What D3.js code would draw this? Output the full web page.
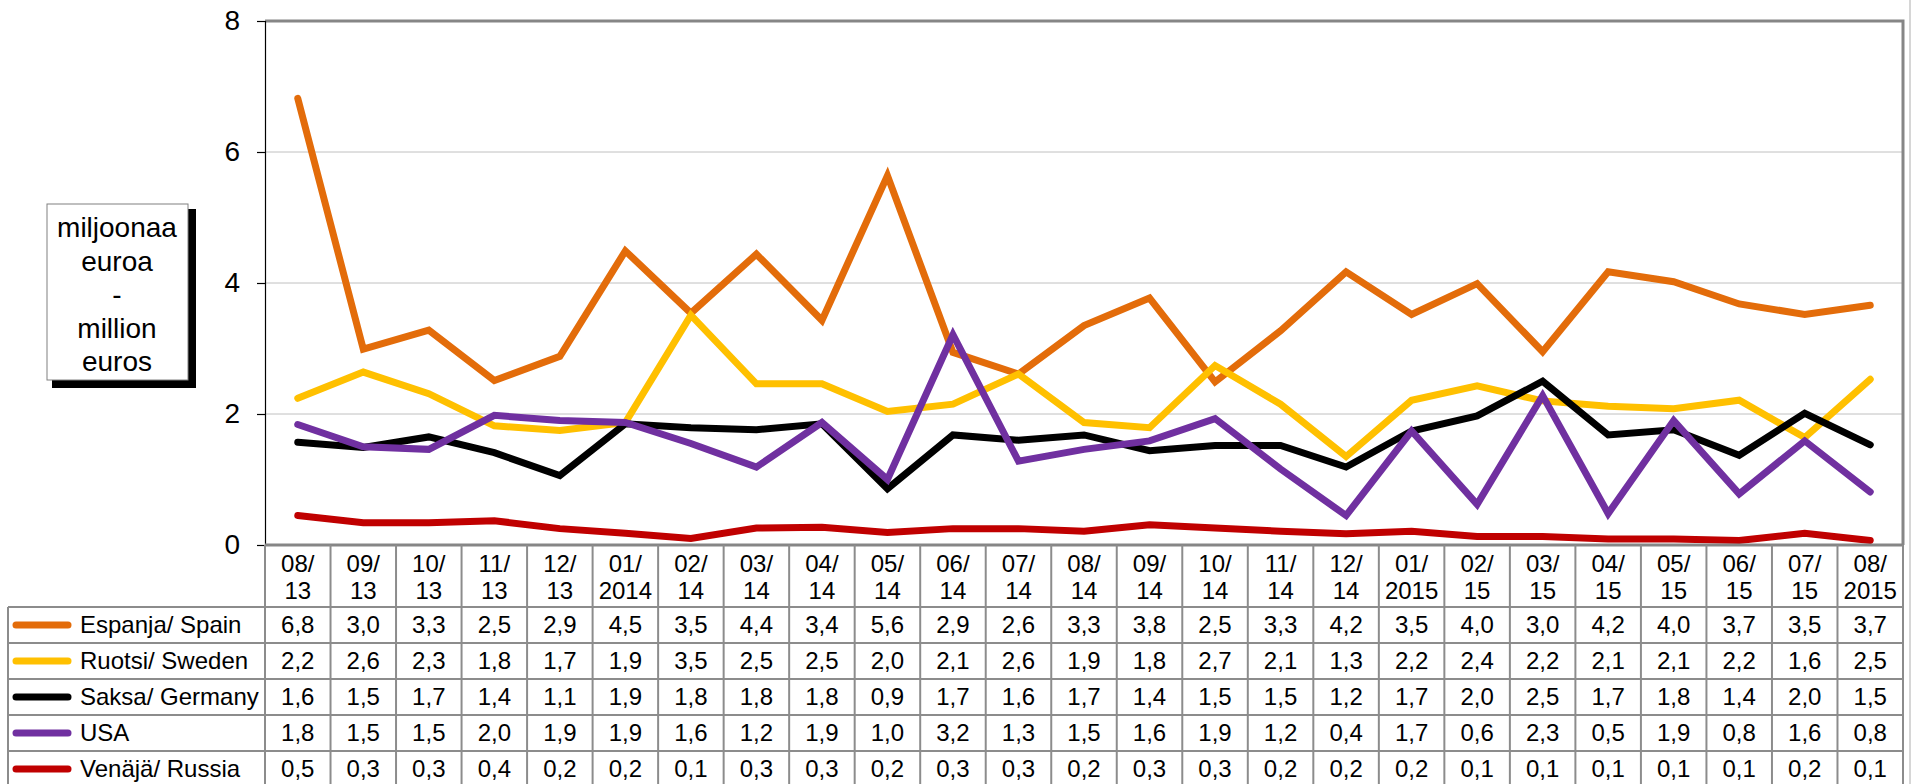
<!DOCTYPE html>
<html>
<head>
<meta charset="utf-8">
<script src="https://cdn.jsdelivr.net/npm/d3@7"></script>
<style>
  html, body { margin: 0; padding: 0; background: #fff; }
  svg { display: block; font-family: "Liberation Sans", Arial, sans-serif; }
</style>
</head>
<body>
<div id="chart"></div>
<script>
// months, two header lines each
var monthTop = ["08/","09/","10/","11/","12/","01/","02/","03/","04/","05/","06/","07/","08/",
                "09/","10/","11/","12/","01/","02/","03/","04/","05/","06/","07/","08/"];
var monthBottom = ["13","13","13","13","13","2014","14","14","14","14","14","14","14",
                   "14","14","14","14","2015","15","15","15","15","15","15","2015"];
var months = monthTop.map(function(d, i) { return d + monthBottom[i]; });

var seriesNames = ["Espanja/ Spain", "Ruotsi/ Sweden", "Saksa/ Germany", "USA", "Venäjä/ Russia"];
var seriesColors = ["#E36C0A", "#FFC000", "#000000", "#7030A0", "#C00000"];

var spain   = [6.82,2.99,3.28,2.51,2.88,4.49,3.54,4.44,3.43,5.64,2.94,2.61,3.35,3.77,2.49,3.27,4.17,3.52,3.99,2.95,4.17,4.02,3.68,3.52,3.66];
var sweden  = [2.24,2.64,2.31,1.82,1.75,1.87,3.51,2.46,2.46,2.04,2.15,2.61,1.87,1.79,2.74,2.15,1.35,2.21,2.43,2.20,2.12,2.08,2.21,1.64,2.53];
var germany = [1.57,1.49,1.65,1.41,1.06,1.85,1.79,1.76,1.85,0.86,1.68,1.60,1.68,1.44,1.52,1.52,1.19,1.74,1.97,2.50,1.68,1.76,1.37,2.01,1.53];
var usa     = [1.84,1.50,1.46,1.98,1.90,1.87,1.55,1.19,1.87,1.00,3.21,1.28,1.46,1.59,1.93,1.16,0.45,1.74,0.62,2.28,0.48,1.90,0.78,1.59,0.81];
var russia  = [0.45,0.34,0.34,0.37,0.25,0.18,0.10,0.26,0.27,0.19,0.25,0.25,0.21,0.31,0.26,0.21,0.17,0.21,0.13,0.13,0.09,0.09,0.07,0.18,0.07];
var seriesValues = [spain, sweden, germany, usa, russia];

// table values as printed
var tableSpain   = ["6,8","3,0","3,3","2,5","2,9","4,5","3,5","4,4","3,4","5,6","2,9","2,6","3,3","3,8","2,5","3,3","4,2","3,5","4,0","3,0","4,2","4,0","3,7","3,5","3,7"];
var tableSweden  = ["2,2","2,6","2,3","1,8","1,7","1,9","3,5","2,5","2,5","2,0","2,1","2,6","1,9","1,8","2,7","2,1","1,3","2,2","2,4","2,2","2,1","2,1","2,2","1,6","2,5"];
var tableGermany = ["1,6","1,5","1,7","1,4","1,1","1,9","1,8","1,8","1,8","0,9","1,7","1,6","1,7","1,4","1,5","1,5","1,2","1,7","2,0","2,5","1,7","1,8","1,4","2,0","1,5"];
var tableUsa     = ["1,8","1,5","1,5","2,0","1,9","1,9","1,6","1,2","1,9","1,0","3,2","1,3","1,5","1,6","1,9","1,2","0,4","1,7","0,6","2,3","0,5","1,9","0,8","1,6","0,8"];
var tableRussia  = ["0,5","0,3","0,3","0,4","0,2","0,2","0,1","0,3","0,3","0,2","0,3","0,3","0,2","0,3","0,3","0,2","0,2","0,2","0,1","0,1","0,1","0,1","0,1","0,2","0,1"];
var tableRows = [tableSpain, tableSweden, tableGermany, tableUsa, tableRussia];

var yTicks = [0, 2, 4, 6, 8];
var unitLabel = ["miljoonaa", "euroa", "-", "million", "euros"];

var W = 1914, H = 784;
var plotLeft = 265, plotRight = 1903, plotTop = 21, plotBottom = 545;
var headerBottom = 607, rowH = 36, tableLeft = 8;

var svg = d3.select("#chart").append("svg")
  .attr("width", W)
  .attr("height", H);

var x = d3.scaleBand()
  .domain(months)
  .range([plotLeft, plotRight])
  .padding(0);

var y = d3.scaleLinear()
  .domain([0, 8])
  .range([plotBottom, plotTop]);

// outer chart border on the right
svg.append("line")
  .attr("x1", 1910).attr("x2", 1910)
  .attr("y1", 0).attr("y2", H)
  .attr("stroke", "#c8c8c8").attr("stroke-width", 1.5);

// gridlines
svg.append("g")
  .selectAll("line")
  .data(yTicks.filter(function(d) { return d > 0 && d < 8; }))
  .enter().append("line")
    .attr("x1", plotLeft).attr("x2", plotRight)
    .attr("y1", function(d) { return y(d); })
    .attr("y2", function(d) { return y(d); })
    .attr("stroke", "#c0c0c0").attr("stroke-width", 1);

// plot frame top and right
svg.append("path")
  .attr("d", "M" + plotLeft + "," + plotTop + "H" + plotRight + "V" + plotBottom)
  .attr("fill", "none")
  .attr("stroke", "#868686").attr("stroke-width", 3);

// y axis
var yAxis = svg.append("g")
  .attr("transform", "translate(" + plotLeft + ",0)")
  .call(d3.axisLeft(y).tickValues(yTicks).tickSize(8).tickPadding(17).tickFormat(d3.format("d")));
yAxis.select(".domain").attr("stroke", "#000").attr("stroke-width", 1.2);
yAxis.selectAll(".tick line").attr("stroke", "#000").attr("stroke-width", 1.2);
yAxis.selectAll(".tick text")
  .style("font-size", "28px")
  .style("font-family", "Liberation Sans, Arial, sans-serif")
  .attr("fill", "#000");

// unit label box
var box = svg.append("g");
box.append("rect")
  .attr("x", 52).attr("y", 209).attr("width", 144).attr("height", 179)
  .attr("fill", "#000");
box.append("rect")
  .attr("x", 47).attr("y", 204).attr("width", 141).attr("height", 176)
  .attr("fill", "#fff").attr("stroke", "#808080").attr("stroke-width", 1);
box.selectAll("text")
  .data(unitLabel)
  .enter().append("text")
    .attr("x", 117)
    .attr("y", function(d, i) { return 237 + i * 33.5; })
    .attr("text-anchor", "middle")
    .style("font-size", "28px")
    .text(function(d) { return d; });

// lines
var line = d3.line()
  .x(function(d, i) { return x(months[i]) + x.bandwidth() / 2; })
  .y(function(d) { return y(d); });

svg.append("g")
  .selectAll("path")
  .data(seriesValues)
  .enter().append("path")
    .attr("d", line)
    .attr("fill", "none")
    .attr("stroke", function(d, i) { return seriesColors[i]; })
    .attr("stroke-width", 7)
    .attr("stroke-linejoin", "miter")
    .attr("stroke-linecap", "round");

// x axis line (bottom of plot)
svg.append("line")
  .attr("x1", plotLeft).attr("x2", plotRight)
  .attr("y1", plotBottom).attr("y2", plotBottom)
  .attr("stroke", "#868686").attr("stroke-width", 3);

// data table
var table = svg.append("g");
var gridColor = "#8c8c8c";

// header cells
var header = table.selectAll(".hdr")
  .data(months)
  .enter().append("g")
    .attr("class", "hdr")
    .attr("transform", function(d) { return "translate(" + x(d) + ",0)"; });
header.append("text")
  .attr("x", x.bandwidth() / 2).attr("y", 572)
  .attr("text-anchor", "middle")
  .style("font-size", "24px")
  .text(function(d, i) { return monthTop[i]; });
header.append("text")
  .attr("x", x.bandwidth() / 2).attr("y", 599)
  .attr("text-anchor", "middle")
  .style("font-size", "24px")
  .text(function(d, i) { return monthBottom[i]; });

// row values
var rows = table.selectAll(".row")
  .data(tableRows)
  .enter().append("g")
    .attr("class", "row")
    .attr("transform", function(d, i) { return "translate(0," + (headerBottom + i * rowH) + ")"; });
rows.selectAll("text.val")
  .data(function(d) { return d; })
  .enter().append("text")
    .attr("class", "val")
    .attr("x", function(d, i) { return x(months[i]) + x.bandwidth() / 2; })
    .attr("y", 26)
    .attr("text-anchor", "middle")
    .style("font-size", "24px")
    .text(function(d) { return d; });

// legend keys and names
rows.append("line")
  .attr("x1", 16).attr("x2", 68)
  .attr("y1", 18).attr("y2", 18)
  .attr("stroke", function(d, i) { return seriesColors[i]; })
  .attr("stroke-width", 7)
  .attr("stroke-linecap", "round");
rows.append("text")
  .attr("x", 80).attr("y", 26)
  .style("font-size", "24px")
  .text(function(d, i) { return seriesNames[i]; });

// table grid: horizontal lines
var hLines = [];
for (var r = 0; r <= tableRows.length; r++) hLines.push(headerBottom + r * rowH);
table.selectAll(".hl")
  .data(hLines)
  .enter().append("line")
    .attr("x1", tableLeft).attr("x2", plotRight)
    .attr("y1", function(d) { return d; })
    .attr("y2", function(d) { return d; })
    .attr("stroke", gridColor).attr("stroke-width", 2);

// vertical lines
var vLines = months.map(function(d) { return x(d); }).concat([plotRight]);
table.selectAll(".vl")
  .data(vLines)
  .enter().append("line")
    .attr("x1", function(d) { return d; })
    .attr("x2", function(d) { return d; })
    .attr("y1", plotBottom).attr("y2", H)
    .attr("stroke", gridColor).attr("stroke-width", 2);
table.append("line")
  .attr("x1", tableLeft).attr("x2", tableLeft)
  .attr("y1", headerBottom).attr("y2", H)
  .attr("stroke", gridColor).attr("stroke-width", 2);
</script>
</body>
</html>
